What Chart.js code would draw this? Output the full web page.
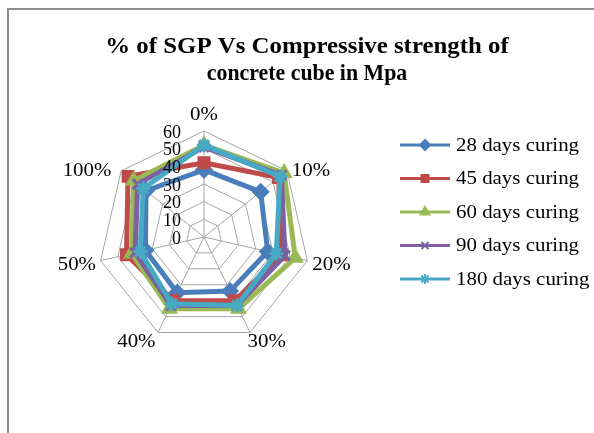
<!DOCTYPE html>
<html>
<head>
<meta charset="utf-8">
<script src="https://cdn.jsdelivr.net/npm/chart.js@4/dist/chart.umd.min.js"></script>
<style>
  html, body { margin: 0; padding: 0; background: #fff; overflow: hidden; width: 594px; height: 433px; }
  #frame { position: absolute; left: 7px; top: 8px; width: 620px; height: 460px; border: 2px solid #8e8e8e; box-sizing: border-box; background: #fff; }
  #c { position: absolute; left: 0; top: 0; }
</style>
</head>
<body>
<div id="frame"><canvas id="c" width="594" height="430"></canvas></div>
<script>
// SGP replacement levels (radar spokes)
const categories = ['0%', '10%', '20%', '30%', '40%', '50%', '100%'];

// Compressive strength (MPa) per curing period
const days28  = [38, 41, 37, 34, 35, 34, 42];
const days45  = [42, 54, 45, 40, 40, 45, 55];
const days60  = [52, 58, 53, 45, 45, 42, 51];
const days90  = [51, 56, 47, 43, 43, 40, 48];
const days180 = [52, 55, 42, 43, 42, 37, 44];

const seriesNames = ['28 days curing', '45 days curing', '60 days curing', '90 days curing', '180 days curing'];
const seriesData  = [days28, days45, days60, days90, days180];

const titleLines = ['% of SGP Vs Compressive strength of', 'concrete cube in Mpa'];

const colors  = ['#4a7ebb', '#be4b48', '#98b954', '#7d60a0', '#46aac5'];
const markers = ['rectRot', 'rect', 'triangle', 'crossRot', 'star'];

const SERIF = "'Liberation Serif', 'Times New Roman', serif";

const datasets = seriesData.map((vals, i) => ({
  label: seriesNames[i],
  data: vals,
  borderColor: colors[i],
  backgroundColor: colors[i],
  borderWidth: 5,
  fill: false,
  pointStyle: markers[i],
  pointRadius: 7,
  pointBorderWidth: 3,
  pointBackgroundColor: colors[i],
  pointBorderColor: colors[i],
  order: seriesData.length - i   // later series painted on top
}));

// draw text stretched horizontally around its anchor
function wideText(ctx, text, x, y, align, sx) {
  ctx.save();
  ctx.translate(x, y);
  ctx.scale(sx || 1.1, 1);
  ctx.textAlign = align;
  ctx.fillText(text, 0, 0);
  ctx.restore();
}

// Two-line bold title across the full frame width
const titlePlugin = {
  id: 'frameTitle',
  afterDraw(chart) {
    const ctx = chart.ctx;
    ctx.save();
    ctx.fillStyle = '#000';
    ctx.font = 'bold 23px ' + SERIF;
    ctx.textBaseline = 'middle';
    wideText(ctx, titleLines[0], chart.width / 2 + 1, 37, 'center', 1.08);
    wideText(ctx, titleLines[1], chart.width / 2 + 1, 64, 'center', 0.95);
    ctx.restore();
  }
};

// Spoke labels just outside the outer ring, plus radial tick labels left of the top spoke
const radarLabelPlugin = {
  id: 'radarLabels',
  afterDraw(chart) {
    const r = chart.scales.r;
    const ctx = chart.ctx;
    ctx.save();
    ctx.fillStyle = '#000';

    ctx.font = '19px ' + SERIF;
    categories.forEach((lab, i) => {
      const v = r.getPointPosition(i, r.drawingArea);
      const dx = (v.x - r.xCenter) / r.drawingArea;
      const dy = (v.y - r.yCenter) / r.drawingArea;
      const align = dx > 0.1 ? 'left' : dx < -0.1 ? 'right' : 'center';
      if (dy < -0.9) {
        ctx.textBaseline = 'bottom';
        wideText(ctx, lab, v.x, v.y - 6, align);
      } else if (dy > 0.5) {
        ctx.textBaseline = 'top';
        wideText(ctx, lab, v.x - 2.5, v.y, align);
      } else {
        ctx.textBaseline = 'middle';
        const gap = dx > 0 ? 5 : 6 - 6 * dy;
        wideText(ctx, lab, v.x + Math.sign(dx) * gap, v.y + 3.5 + 5.5 * dy, align);
      }
    });

    ctx.font = '18px ' + SERIF;
    ctx.textAlign = 'right';
    ctx.textBaseline = 'middle';
    r.ticks.forEach(t => {
      const d = r.getDistanceFromCenterForValue(t.value);
      ctx.fillText(String(t.value), r.xCenter - 23, r.yCenter - d + 2);
    });
    ctx.restore();
  }
};

// Legend with a line sample and marker for every series
const lineLegendPlugin = {
  id: 'lineLegend',
  afterDraw(chart) {
    const ctx = chart.ctx;
    const x0 = 391, x1 = 441, tx = 447, y0 = 135, dy = 33.5;
    ctx.save();
    seriesNames.forEach((name, i) => {
      const y = y0 + i * dy;
      ctx.strokeStyle = colors[i];
      ctx.lineWidth = 3;
      ctx.beginPath();
      ctx.moveTo(x0, y);
      ctx.lineTo(x1, y);
      ctx.stroke();
      ctx.fillStyle = colors[i];
      ctx.lineWidth = 2;
      Chart.helpers.drawPoint(ctx, { pointStyle: markers[i], radius: 5, borderWidth: 2, rotation: 0 }, (x0 + x1) / 2, y);
      ctx.fillStyle = '#000';
      ctx.font = '19px ' + SERIF;
      ctx.textBaseline = 'middle';
      wideText(ctx, name, tx, y + 1, 'left');
    });
    ctx.restore();
  }
};

new Chart(document.getElementById('c'), {
  type: 'radar',
  data: { labels: categories, datasets },
  options: {
    responsive: false,
    devicePixelRatio: 1,
    animation: false,
    layout: { padding: { left: 89, right: 293, top: 121, bottom: 97 } },
    plugins: {
      legend: { display: false },
      tooltip: { enabled: false },
      title: { display: false }
    },
    scales: {
      r: {
        min: 0,
        max: 60,
        ticks: { stepSize: 10, display: false },
        grid: { color: '#a6a6a6', lineWidth: 1 },
        angleLines: { color: '#a6a6a6', lineWidth: 1 },
        pointLabels: { display: false }
      }
    }
  },
  plugins: [radarLabelPlugin, lineLegendPlugin, titlePlugin]
});
</script>
</body>
</html>
